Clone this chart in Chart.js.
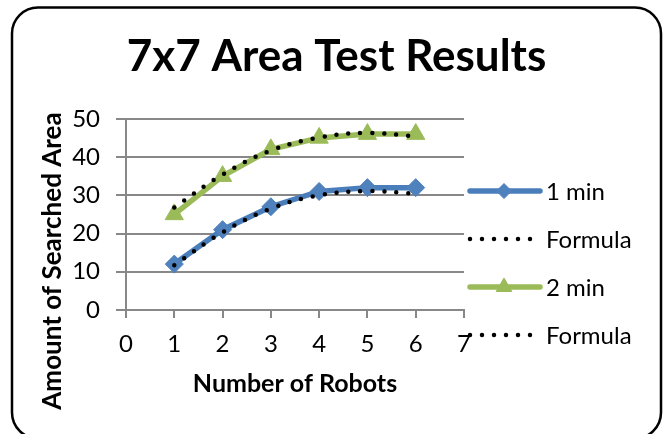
<!DOCTYPE html>
<html>
<head>
<meta charset="utf-8">
<script src="https://cdn.jsdelivr.net/npm/chart.js@4"></script>
<style>
  html, body { margin: 0; padding: 0; background: #fff; }
  canvas { display: block; }
</style>
</head>
<body>
<canvas id="c" width="670" height="434"></canvas>
<script>
// ---- data ----
const robots = [1, 2, 3, 4, 5, 6];
const oneMin = [12, 21, 27, 31, 32, 32];
const formulaOne = [11.7, 20.3, 26.5, 30.0, 31.1, 30.4];
const twoMin = [25, 35, 42, 45, 46, 46];
const formulaTwo = [26.8, 35.4, 41.7, 45.1, 46.3, 45.4];
const seriesLabels = ['1 min', 'Formula', '2 min', 'Formula'];
const chartTitle = '7x7 Area Test Results';
const xTitle = 'Number of Robots';
const yTitle = 'Amount of Searched Area';

const FONT = 'Lato, "Open Sans", sans-serif';
const BLUE = '#4A7EBB';
const BLUE_FILL = '#4F81BD';
const GREEN = '#9BBB59';
const GRID = '#888888';

const pts = (ys) => robots.map((x, i) => ({ x: x, y: ys[i] }));

const bgPlugin = {
  id: 'bg',
  beforeDraw(chart) {
    const ctx = chart.ctx;
    ctx.save();
    ctx.fillStyle = '#fff';
    ctx.fillRect(0, 0, chart.width, chart.height);
    ctx.strokeStyle = '#000';
    ctx.lineWidth = 2.5;
    ctx.beginPath();
    ctx.roundRect(12, 7.5, 649, 431, 26);
    ctx.stroke();
    ctx.restore();
  }
};

const extrasPlugin = {
  id: 'extras',
  afterDraw(chart) {
    const ctx = chart.ctx;
    const tb = chart.titleBlock;
    // chart title, centred on the whole frame
    ctx.save();
    ctx.font = 'bold 44px ' + FONT;
    ctx.fillStyle = '#000';
    ctx.textAlign = 'center';
    ctx.textBaseline = 'middle';
    const tOpts = chart.options.plugins.title;
    const tY = tb.top + tOpts.padding.top + 44 * 1.2 / 2;
    ctx.fillText(chartTitle, 336.5, tY);
    ctx.restore();

    // y axis title
    ctx.save();
    ctx.translate(53, 261);
    ctx.rotate(-Math.PI / 2);
    ctx.font = 'bold 26px ' + FONT;
    ctx.fillStyle = '#000';
    ctx.textAlign = 'center';
    ctx.textBaseline = 'middle';
    ctx.fillText(yTitle, 0, 0);
    ctx.restore();

    // legend
    ctx.save();
    chart.data.datasets.forEach((ds, i) => {
      const y = 191 + i * 48;
      ctx.save();
      ctx.strokeStyle = ds.borderColor;
      ctx.lineWidth = ds.borderWidth;
      ctx.lineCap = 'round';
      ctx.setLineDash(ds.borderDash || []);
      ctx.beginPath();
      ctx.moveTo(470, y);
      ctx.lineTo(ds.borderDash && ds.borderDash.length ? 532 : 540, y);
      ctx.stroke();
      ctx.restore();
      if (ds.pointRadius > 0) {
        ctx.save();
        ctx.fillStyle = ds.pointBackgroundColor;
        ctx.strokeStyle = ds.pointBorderColor;
        Chart.helpers.drawPoint(ctx, {
          pointStyle: ds.pointStyle,
          radius: ds.pointRadius - 1.5,
          rotation: 0,
          borderWidth: ds.pointBorderWidth
        }, 504, y);
        ctx.restore();
      }
      ctx.fillStyle = '#000';
      ctx.font = '24px ' + FONT;
      ctx.textAlign = 'left';
      ctx.textBaseline = 'middle';
      ctx.fillText(ds.label, 546, y + 1);
    });
    ctx.restore();
  }
};

new Chart(document.getElementById('c'), {
  type: 'line',
  data: {
    datasets: [
      {
        label: seriesLabels[0],
        data: pts(oneMin),
        borderColor: BLUE,
        borderWidth: 5.5,
        pointStyle: 'rectRot',
        pointRadius: 9,
        pointBackgroundColor: BLUE_FILL,
        pointBorderColor: BLUE_FILL,
        pointBorderWidth: 1,
        tension: 0,
        order: 2
      },
      {
        label: seriesLabels[1],
        data: pts(formulaOne),
        borderColor: '#000',
        borderWidth: 4.5,
        borderDash: [0, 12],
        borderCapStyle: 'round',
        pointRadius: 0,
        tension: 0.4,
        order: 0
      },
      {
        label: seriesLabels[2],
        data: pts(twoMin),
        borderColor: GREEN,
        borderWidth: 5.5,
        pointStyle: 'triangle',
        pointRadius: 10.5,
        pointBackgroundColor: GREEN,
        pointBorderColor: GREEN,
        pointBorderWidth: 1,
        tension: 0,
        order: 1
      },
      {
        label: seriesLabels[3],
        data: pts(formulaTwo),
        borderColor: '#000',
        borderWidth: 4.5,
        borderDash: [0, 12],
        borderCapStyle: 'round',
        pointRadius: 0,
        tension: 0.4,
        order: 0
      }
    ]
  },
  options: {
    responsive: false,
    animation: false,
    devicePixelRatio: 1,
    layout: { padding: { left: 20, right: 206, top: 0, bottom: 0 } },
    plugins: {
      legend: { display: false },
      tooltip: { enabled: false },
      title: {
        display: true,
        text: chartTitle,
        color: 'rgba(0,0,0,0)',
        font: { family: FONT, size: 44, weight: 'bold' },
        padding: { top: 30, bottom: 36 }
      }
    },
    scales: {
      x: {
        type: 'linear',
        min: 0,
        max: 7,
        ticks: { stepSize: 1, color: '#000', font: { family: FONT, size: 24 }, padding: 12 },
        grid: { drawOnChartArea: false, drawTicks: true, tickLength: 8, color: GRID, lineWidth: 2 },
        border: { color: GRID, width: 2 },
        title: {
          display: true,
          text: xTitle,
          color: '#000',
          font: { family: FONT, size: 25, weight: 'bold' },
          padding: { top: 0, bottom: 35 }
        },
        afterFit(s) { s.height = 124; }
      },
      y: {
        min: 0,
        max: 50,
        ticks: { stepSize: 10, color: '#000', font: { family: FONT, size: 24 }, padding: 16 },
        grid: { color: GRID, lineWidth: 2, tickLength: 10 },
        border: { color: GRID, width: 2 },
        afterFit(s) { s.width = 106; }
      }
    }
  },
  plugins: [bgPlugin, extrasPlugin]
});
</script>
</body>
</html>
